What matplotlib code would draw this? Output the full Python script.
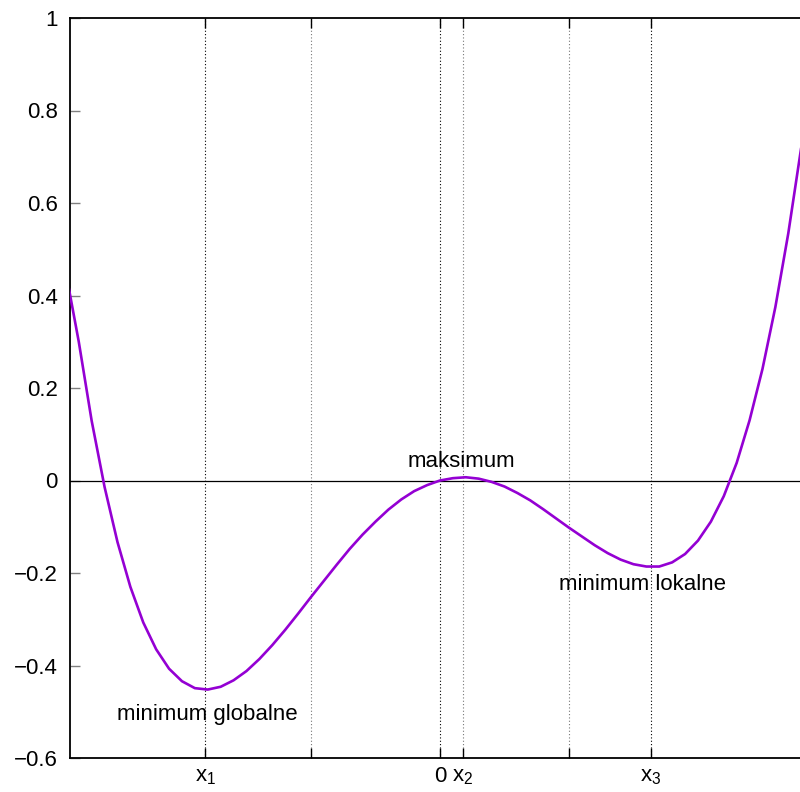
import matplotlib
matplotlib.use("Agg")
import matplotlib.pyplot as plt

plt.rcParams["font.family"] = ["Liberation Sans", "DejaVu Sans"]
plt.rcParams["mathtext.fontset"] = "custom"
plt.rcParams["mathtext.rm"] = "Liberation Sans"
plt.rcParams["axes.unicode_minus"] = True

# curve samples
x_vals = [-2.9, -2.8, -2.7, -2.6, -2.5, -2.4, -2.3, -2.2, -2.1, -2.0,
          -1.9, -1.8, -1.7, -1.6, -1.5, -1.4, -1.3, -1.2, -1.1, -1.0,
          -0.9, -0.8, -0.7, -0.6, -0.5, -0.4, -0.3, -0.2, -0.1, 0.0,
          0.1, 0.2, 0.3, 0.4, 0.5, 0.6, 0.7, 0.8, 0.9, 1.0,
          1.1, 1.2, 1.3, 1.4, 1.5, 1.6, 1.7, 1.8, 1.9, 2.0,
          2.1, 2.2, 2.3, 2.4, 2.5, 2.6, 2.7, 2.8]
y_vals = [0.450, 0.300, 0.129, -0.014, -0.133, -0.230, -0.307, -0.365, -0.407, -0.434,
          -0.449, -0.452, -0.446, -0.432, -0.412, -0.386, -0.356, -0.323, -0.288, -0.252,
          -0.217, -0.182, -0.148, -0.117, -0.089, -0.063, -0.041, -0.023, -0.010, 0.000,
          0.005, 0.007, 0.004, -0.003, -0.013, -0.027, -0.043, -0.062, -0.082, -0.102,
          -0.121, -0.140, -0.157, -0.171, -0.181, -0.186, -0.186, -0.177, -0.159, -0.130,
          -0.089, -0.034, 0.038, 0.130, 0.241, 0.375, 0.534, 0.719]

# special points on the x axis
x_ticks = [-1.82, -1.0, 0.0, 0.178, 1.0, 1.636]
x_tick_labels = [r"$\mathregular{x_1}$", "", "0", r"$\mathregular{x_2}$", "", r"$\mathregular{x_3}$"]
grid_colors = ["black", "#777777", "black", "#777777", "#777777", "black"]

y_ticks = [-0.6, -0.4, -0.2, 0.0, 0.2, 0.4, 0.6, 0.8, 1.0]
y_tick_labels = ["\u22120.6", "\u22120.4", "\u22120.2", "0", "0.2", "0.4", "0.6", "0.8", "1"]

notes = [("maksimum", 0.163, 0.030),
         ("minimum globalne", -1.80, -0.517),
         ("minimum lokalne", 1.57, -0.237)]


def main():
    fig = plt.figure(figsize=(8, 7.92), dpi=100)
    ax = fig.add_axes([70 / 800, 1 - 758 / 792, 730 / 800, 740 / 792])

    for xv, c in zip(x_ticks, grid_colors):
        ax.axvline(xv, color=c, lw=0.8, ls=(0, (1, 2)), zorder=1)
    ax.axhline(0, color="black", lw=0.9, zorder=2)

    ax.plot(x_vals, y_vals, color="#9400d3", lw=1.9, zorder=3)

    ax.set_xlim(-2.868, 2.791)
    ax.set_ylim(-0.6, 1.0)

    ax.set_xticks(x_ticks)
    ax.set_xticklabels(x_tick_labels, fontsize=16)
    ax.set_yticks(y_ticks)
    ax.set_yticklabels(y_tick_labels, fontsize=16)
    ax.tick_params(axis="x", direction="in", length=7, width=1, color="black",
                   pad=6, top=True)
    ax.tick_params(axis="y", direction="in", length=7, width=1, color="#808080",
                   pad=9, right=False)

    for side in ["left", "top", "bottom"]:
        ax.spines[side].set_linewidth(1.3)
    ax.spines["right"].set_visible(False)

    for text, xv, yv in notes:
        ax.text(xv, yv, text, fontsize=16, ha="center", va="baseline")

    fig.savefig("out.png", dpi=100)
    plt.close(fig)


if __name__ == "__main__":
    main()
